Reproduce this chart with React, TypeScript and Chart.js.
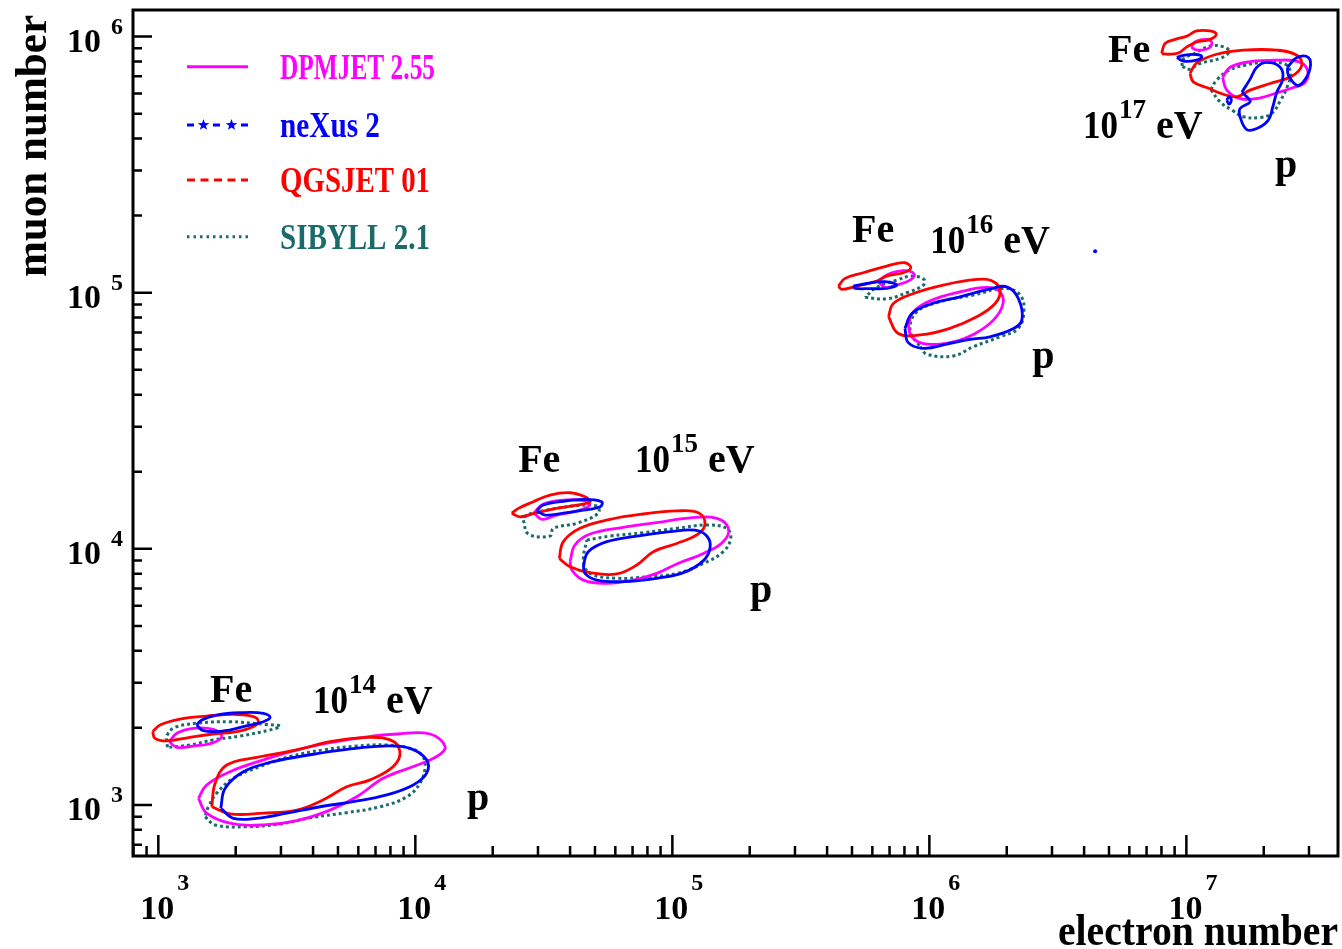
import React, { useEffect, useRef } from "react";
import { Chart, registerables } from "chart.js";
Chart.register(...registerables);

// ---- axes ----
const X_MIN = 797;
const X_MAX = 3.89e7;
const Y_MIN = 632;
const Y_MAX = 1.27e6;
const xMajorTicks = [1e3, 1e4, 1e5, 1e6, 1e7];
const xMajorExp = ["3", "4", "5", "6", "7"];
const yMajorTicks = [1e3, 1e4, 1e5, 1e6];
const yMajorExp = ["3", "4", "5", "6"];
const tickDecades = [1e2, 1e3, 1e4, 1e5, 1e6, 1e7];
const minorMultipliers = [2, 3, 4, 5, 6, 7, 8, 9];
const xTitle = "electron number";
const yTitle = "muon number";

// ---- models ----
const modelNames = ["DPMJET 2.55", "neXus 2", "QGSJET 01", "SIBYLL 2.1"];
const modelColors = ["#ff00ff", "#0000ff", "#ff0000", "#1b6b6b"];

// ---- contour lines as [log10(Ne), log10(Nmu)] ----
// 10^14 eV
const qgsFe14 = [[2.978,3.286],[3.007,3.312],[3.084,3.335],[3.188,3.347],[3.292,3.354],[3.363,3.347],[3.389,3.329],[3.370,3.306],[3.305,3.286],[3.214,3.277],[3.123,3.264],[3.033,3.250],[2.987,3.260]];
const nexFe14 = [[3.149,3.312],[3.169,3.332],[3.227,3.351],[3.318,3.360],[3.409,3.358],[3.435,3.342],[3.409,3.325],[3.331,3.306],[3.253,3.289],[3.175,3.290]];
const dpmFe14 = [[3.043,3.247],[3.072,3.280],[3.136,3.299],[3.214,3.295],[3.247,3.269],[3.214,3.243],[3.136,3.230],[3.072,3.225]];
const sibFe14 = [[3.035,3.225],[3.035,3.273],[3.065,3.303],[3.149,3.319],[3.279,3.325],[3.409,3.315],[3.474,3.308],[3.435,3.293],[3.318,3.269],[3.214,3.254],[3.123,3.234]];
const qgsP14 = [[3.208,2.993],[3.221,3.085],[3.266,3.156],[3.383,3.186],[3.539,3.215],[3.668,3.247],[3.798,3.263],[3.902,3.254],[3.940,3.208],[3.914,3.150],[3.824,3.098],[3.733,3.071],[3.642,3.020],[3.539,2.980],[3.409,2.968],[3.279,2.965]];
const dpmP14 = [[3.156,3.026],[3.188,3.078],[3.279,3.130],[3.409,3.176],[3.539,3.215],[3.668,3.243],[3.798,3.264],[3.928,3.277],[4.057,3.277],[4.116,3.228],[4.083,3.189],[3.992,3.150],[3.875,3.104],[3.772,3.032],[3.668,2.980],[3.539,2.939],[3.409,2.922],[3.279,2.929],[3.188,2.968]];
const nexP14 = [[3.243,2.987],[3.260,3.065],[3.331,3.130],[3.447,3.169],[3.603,3.198],[3.733,3.217],[3.875,3.230],[3.979,3.221],[4.044,3.176],[4.044,3.124],[3.992,3.078],[3.889,3.039],[3.759,3.013],[3.629,2.993],[3.500,2.968],[3.383,2.948],[3.292,2.948]];
const sibP14 = [[3.182,2.954],[3.221,2.922],[3.344,2.915],[3.474,2.926],[3.603,2.952],[3.733,2.970],[3.863,2.993],[3.967,3.032],[4.018,3.085],[4.038,3.150],[4.025,3.195],[3.979,3.221],[3.889,3.234],[3.772,3.230],[3.642,3.215],[3.512,3.189],[3.396,3.150],[3.292,3.104],[3.227,3.046],[3.195,2.993]];
// 10^15 eV
const qgsFe15 = [[4.375,4.139],[4.401,4.158],[4.459,4.184],[4.524,4.210],[4.602,4.219],[4.660,4.203],[4.680,4.184],[4.628,4.171],[4.550,4.158],[4.472,4.141],[4.407,4.125]];
const nexFe15 = [[4.472,4.149],[4.498,4.171],[4.563,4.184],[4.654,4.193],[4.725,4.184],[4.719,4.164],[4.654,4.151],[4.576,4.139],[4.505,4.132]];
const dpmFe15 = [[4.462,4.141],[4.498,4.175],[4.576,4.190],[4.654,4.188],[4.677,4.170],[4.641,4.151],[4.550,4.132],[4.492,4.115]];
const sibFe15 = [[4.420,4.112],[4.440,4.058],[4.524,4.050],[4.537,4.080],[4.628,4.100],[4.712,4.139],[4.706,4.167],[4.615,4.167],[4.511,4.151],[4.433,4.132]];
const qgsP15 = [[4.560,3.963],[4.576,4.028],[4.641,4.080],[4.758,4.115],[4.887,4.136],[5.017,4.148],[5.101,4.141],[5.127,4.100],[5.101,4.058],[5.017,4.021],[4.926,3.989],[4.862,3.937],[4.784,3.902],[4.680,3.907],[4.602,3.930]];
const dpmP15 = [[4.602,3.950],[4.621,4.015],[4.680,4.058],[4.809,4.084],[4.939,4.102],[5.069,4.121],[5.173,4.119],[5.218,4.080],[5.198,4.028],[5.121,3.982],[5.017,3.941],[4.939,3.904],[4.848,3.878],[4.745,3.865],[4.654,3.878],[4.609,3.917]];
const nexP15 = [[4.654,3.937],[4.673,3.989],[4.745,4.028],[4.862,4.050],[4.991,4.067],[5.088,4.073],[5.134,4.050],[5.147,4.006],[5.121,3.954],[5.043,3.907],[4.939,3.885],[4.809,3.872],[4.706,3.878],[4.660,3.904]];
const sibP15 = [[4.667,4.034],[4.758,4.050],[4.887,4.063],[5.017,4.080],[5.134,4.093],[5.212,4.080],[5.227,4.041],[5.198,3.989],[5.121,3.943],[5.017,3.904],[4.900,3.891],[4.784,3.885],[4.680,3.904],[4.654,3.950]];
// 10^16 eV
const qgsFe16 = [[5.646,5.026],[5.672,5.056],[5.743,5.078],[5.834,5.104],[5.905,5.117],[5.928,5.097],[5.899,5.078],[5.834,5.065],[5.789,5.043],[5.717,5.026],[5.659,5.013]];
const dpmFe16 = [[5.802,5.043],[5.834,5.069],[5.899,5.086],[5.941,5.073],[5.925,5.049],[5.873,5.030],[5.827,5.021]];
const nexFe16 = [[5.704,5.026],[5.757,5.036],[5.827,5.043],[5.873,5.030],[5.834,5.017],[5.769,5.016],[5.711,5.017]];
const sibFe16 = [[5.750,4.982],[5.834,4.976],[5.912,5.000],[5.977,5.030],[5.979,5.052],[5.931,5.065],[5.873,5.049],[5.795,5.021]];
const qgsP16 = [[5.841,4.906],[5.860,4.958],[5.938,4.997],[6.054,5.030],[6.184,5.052],[6.243,5.047],[6.275,5.010],[6.256,4.958],[6.184,4.906],[6.080,4.861],[5.964,4.835],[5.879,4.841]];
const dpmP16 = [[5.918,4.874],[5.938,4.925],[6.003,4.968],[6.119,5.003],[6.223,5.021],[6.275,5.003],[6.286,4.955],[6.249,4.893],[6.178,4.841],[6.093,4.808],[5.990,4.799],[5.932,4.826]];
const nexP16 = [[5.905,4.861],[5.932,4.919],[6.003,4.955],[6.119,4.984],[6.236,5.015],[6.301,5.023],[6.346,4.978],[6.360,4.893],[6.321,4.857],[6.236,4.828],[6.158,4.818],[6.068,4.799],[5.977,4.783],[5.918,4.805]];
const sibP16 = [[5.964,4.789],[5.990,4.760],[6.093,4.753],[6.171,4.789],[6.275,4.828],[6.346,4.861],[6.368,4.932],[6.353,4.991],[6.295,5.017],[6.171,4.991],[6.042,4.965],[5.951,4.925],[5.925,4.854]];
// 10^17 eV
const qgsFe17 = [[6.904,5.934],[6.917,5.973],[6.956,5.989],[7.002,6.002],[7.040,6.022],[7.092,6.022],[7.116,6.009],[7.092,5.989],[7.040,5.979],[7.002,5.960],[6.969,5.936],[6.930,5.931]];
const dpmFe17 = [[7.021,5.966],[7.040,5.983],[7.079,5.989],[7.099,5.976],[7.086,5.954],[7.047,5.947],[7.025,5.954]];
const nexFe17 = [[6.963,5.918],[6.988,5.927],[7.040,5.930],[7.060,5.921],[7.040,5.908],[6.988,5.904]];
const sibFe17 = [[6.983,5.885],[6.987,5.911],[7.032,5.934],[7.092,5.963],[7.144,5.960],[7.167,5.941],[7.131,5.915],[7.053,5.895],[7.008,5.872]];
const qgsP17 = [[7.014,5.856],[7.040,5.897],[7.118,5.931],[7.222,5.947],[7.352,5.947],[7.430,5.927],[7.449,5.888],[7.410,5.845],[7.326,5.817],[7.248,5.791],[7.196,5.765],[7.144,5.775],[7.079,5.801],[7.027,5.823]];
const dpmP17 = [[7.141,5.841],[7.170,5.880],[7.248,5.902],[7.352,5.908],[7.436,5.902],[7.471,5.870],[7.462,5.821],[7.416,5.801],[7.352,5.780],[7.274,5.758],[7.209,5.758],[7.157,5.791]];
const nexP17 = [[7.216,5.783],[7.248,5.834],[7.274,5.880],[7.313,5.899],[7.365,5.880],[7.375,5.834],[7.352,5.783],[7.336,5.725],[7.319,5.674],[7.274,5.641],[7.235,5.637],[7.209,5.687],[7.209,5.719],[7.248,5.745],[7.235,5.765]];
const nexP17b = [[7.393,5.880],[7.430,5.918],[7.475,5.918],[7.481,5.875],[7.455,5.823],[7.430,5.810],[7.397,5.849]];
const nexP17c = [[7.157,5.752],[7.166,5.765],[7.175,5.752],[7.166,5.736]];
const sibP17 = [[7.095,5.793],[7.118,5.830],[7.163,5.867],[7.228,5.888],[7.313,5.900],[7.384,5.892],[7.406,5.859],[7.393,5.806],[7.367,5.752],[7.332,5.700],[7.287,5.684],[7.222,5.687],[7.177,5.713],[7.131,5.745]];
const nexStray = [[6.645, 5.162]];

// ---- text annotations (log10 Ne, log10 Nmu of the text's left baseline) ----
const feLabels = [[3.201, 3.402], [4.400, 4.300], [5.699, 5.198], [6.695, 5.900]];
const energyLabels = [[3.602, 3.359], [4.855, 4.300], [6.003, 5.155], [6.598, 5.603]];
const energyExp = ["14", "15", "16", "17"];
const pLabels = [[4.201, 2.980], [5.302, 3.792], [6.400, 4.706], [7.345, 5.451]];

// model index: 0 DPMJET, 1 neXus, 2 QGSJET, 3 SIBYLL
const contours: [number, number[][]][] = [
  [3, sibFe14], [3, sibP14], [3, sibFe15], [3, sibP15], [3, sibFe16], [3, sibP16], [3, sibFe17], [3, sibP17],
  [0, dpmFe14], [0, dpmP14], [0, dpmFe15], [0, dpmP15], [0, dpmFe16], [0, dpmP16], [0, dpmFe17], [0, dpmP17],
  [2, qgsFe14], [2, qgsP14], [2, qgsFe15], [2, qgsP15], [2, qgsFe16], [2, qgsP16], [2, qgsFe17], [2, qgsP17],
  [1, nexFe14], [1, nexP14], [1, nexFe15], [1, nexP15], [1, nexFe16], [1, nexP16], [1, nexFe17], [1, nexP17], [1, nexP17b], [1, nexP17c],
];
const drawOrder = [3, 0, 2, 1];

const SERIF = '"Liberation Serif", "Times New Roman", serif';

function toPoints(arr: number[][]) {
  return arr.map(([a, b]) => ({ x: Math.pow(10, a), y: Math.pow(10, b) }));
}

function drawStar(ctx: CanvasRenderingContext2D, cx: number, cy: number, r: number) {
  ctx.beginPath();
  for (let i = 0; i < 10; i++) {
    const ang = -Math.PI / 2 + (i * Math.PI) / 5;
    const rr = i % 2 === 0 ? r : r * 0.42;
    const px = cx + rr * Math.cos(ang);
    const py = cy + rr * Math.sin(ang);
    if (i === 0) ctx.moveTo(px, py);
    else ctx.lineTo(px, py);
  }
  ctx.closePath();
  ctx.fill();
}

const overlayPlugin = {
  id: "overlay",
  beforeDraw(chart: any) {
    const { ctx, width, height } = chart;
    ctx.save();
    ctx.fillStyle = "#ffffff";
    ctx.fillRect(0, 0, width, height);
    ctx.restore();
  },
  afterDraw(chart: any) {
    const ctx: CanvasRenderingContext2D = chart.ctx;
    const xs = chart.scales.x;
    const ys = chart.scales.y;
    const { left, right, top, bottom } = chart.chartArea;
    ctx.save();

    // frame
    ctx.strokeStyle = "#000";
    ctx.lineWidth = 3;
    ctx.strokeRect(left, top, right - left, bottom - top);

    // ticks
    ctx.lineWidth = 2.5;
    ctx.beginPath();
    for (const d of tickDecades) {
      for (const m of [1, ...minorMultipliers]) {
        const v = d * m;
        const major = m === 1;
        if (v > X_MIN && v < X_MAX) {
          const px = xs.getPixelForValue(v);
          ctx.moveTo(px, bottom);
          ctx.lineTo(px, bottom - (major ? 21 : 10));
        }
        if (v > Y_MIN && v < Y_MAX) {
          const py = ys.getPixelForValue(v);
          ctx.moveTo(left, py);
          ctx.lineTo(left + (major ? 19 : 9), py);
        }
      }
    }
    ctx.stroke();

    // tick labels
    ctx.fillStyle = "#000";
    ctx.textBaseline = "alphabetic";
    xMajorTicks.forEach((v, i) => {
      const px = xs.getPixelForValue(v);
      ctx.font = `bold 34px ${SERIF}`;
      ctx.textAlign = "center";
      ctx.fillText("10", px - 1, 919);
      ctx.font = `bold 24px ${SERIF}`;
      ctx.textAlign = "left";
      ctx.fillText(xMajorExp[i], px + 19, 890);
    });
    yMajorTicks.forEach((v, i) => {
      const py = ys.getPixelForValue(v);
      ctx.font = `bold 34px ${SERIF}`;
      ctx.textAlign = "right";
      ctx.fillText("10", 101, py + 15);
      ctx.font = `bold 24px ${SERIF}`;
      ctx.textAlign = "left";
      ctx.fillText(yMajorExp[i], 111, py - 3);
    });

    // axis titles
    ctx.font = `bold 44px ${SERIF}`;
    ctx.textAlign = "right";
    ctx.fillText(xTitle, 1338, 945, 280);
    ctx.save();
    ctx.translate(46, 146);
    ctx.rotate(-Math.PI / 2);
    ctx.textAlign = "center";
    ctx.fillText(yTitle, 0, 0, 262);
    ctx.restore();

    // annotations
    const P = (p: number[]) => [xs.getPixelForValue(Math.pow(10, p[0])), ys.getPixelForValue(Math.pow(10, p[1]))];
    ctx.textAlign = "left";
    feLabels.forEach((p) => {
      const [x, y] = P(p);
      ctx.font = `bold 40px ${SERIF}`;
      ctx.fillText("Fe", x, y, 43);
    });
    energyLabels.forEach((p, i) => {
      const [x, y] = P(p);
      ctx.font = `bold 40px ${SERIF}`;
      ctx.fillText("10", x, y, 35);
      ctx.font = `bold 27px ${SERIF}`;
      ctx.fillText(energyExp[i], x + 36, y - 20, 28);
      ctx.font = `bold 40px ${SERIF}`;
      ctx.fillText("eV", x + 73, y, 47);
    });
    pLabels.forEach((p) => {
      const [x, y] = P(p);
      ctx.font = `bold 40px ${SERIF}`;
      ctx.fillText("p", x, y);
    });

    // legend
    const rows = [66.7, 125, 180, 236.7];
    const textW = [155, 100, 150, 150];
    rows.forEach((ry, i) => {
      const c = modelColors[i];
      ctx.strokeStyle = c;
      ctx.fillStyle = c;
      ctx.lineWidth = 3;
      ctx.lineCap = "butt";
      if (i === 0) {
        ctx.setLineDash([]);
        ctx.beginPath(); ctx.moveTo(187, ry); ctx.lineTo(248, ry); ctx.stroke();
      } else if (i === 1) {
        ctx.setLineDash([]);
        ctx.beginPath();
        ctx.moveTo(187, ry); ctx.lineTo(194, ry);
        ctx.moveTo(213, ry); ctx.lineTo(220, ry);
        ctx.moveTo(241, ry); ctx.lineTo(248, ry);
        ctx.stroke();
        drawStar(ctx, 203.5, ry, 6);
        drawStar(ctx, 231.5, ry, 6);
      } else if (i === 2) {
        ctx.setLineDash([8, 5.5]);
        ctx.beginPath(); ctx.moveTo(187, ry); ctx.lineTo(248, ry); ctx.stroke();
      } else {
        ctx.setLineDash([2.5, 4]);
        ctx.beginPath(); ctx.moveTo(187, ry); ctx.lineTo(248, ry); ctx.stroke();
      }
      ctx.setLineDash([]);
      ctx.font = `bold 36px ${SERIF}`;
      ctx.textAlign = "left";
      ctx.fillText(modelNames[i], 280, ry + 12, textW[i]);
    });

    ctx.restore();
  },
};

export default function App() {
  const ref = useRef<HTMLCanvasElement>(null);
  useEffect(() => {
    const datasets: any[] = contours.map(([m, arr]) => {
      const pts = toPoints(arr);
      pts.push(pts[0]);
      const dotted = m === 3;
      return {
        label: modelNames[m],
        data: pts,
        showLine: true,
        borderColor: modelColors[m],
        backgroundColor: modelColors[m],
        borderWidth: dotted ? 3 : 2.8,
        borderDash: dotted ? [3, 3] : [],
        pointRadius: 0,
        tension: 0.4,
        fill: false,
        order: 3 - drawOrder.indexOf(m),
      };
    });
    datasets.push({
      label: modelNames[1],
      data: toPoints(nexStray),
      showLine: false,
      pointRadius: 2,
      pointBorderWidth: 0,
      backgroundColor: modelColors[1],
      borderColor: modelColors[1],
      order: 0,
    });
    const chart = new Chart(ref.current as HTMLCanvasElement, {
      type: "scatter",
      data: { datasets },
      options: {
        animation: false,
        responsive: false,
        devicePixelRatio: 1,
        layout: { padding: { left: 133, right: 4, top: 10, bottom: 93 } },
        scales: {
          x: { type: "logarithmic", min: X_MIN, max: X_MAX, display: false },
          y: { type: "logarithmic", min: Y_MIN, max: Y_MAX, display: false },
        },
        plugins: { legend: { display: false }, tooltip: { enabled: false } },
      },
      plugins: [overlayPlugin],
    } as any);
    return () => chart.destroy();
  }, []);
  return (
    <div style={{ position: "absolute", left: 0, top: 0, width: 1342, height: 949, background: "#fff" }}>
      <canvas ref={ref} width={1342} height={949} style={{ display: "block" }} />
    </div>
  );
}
